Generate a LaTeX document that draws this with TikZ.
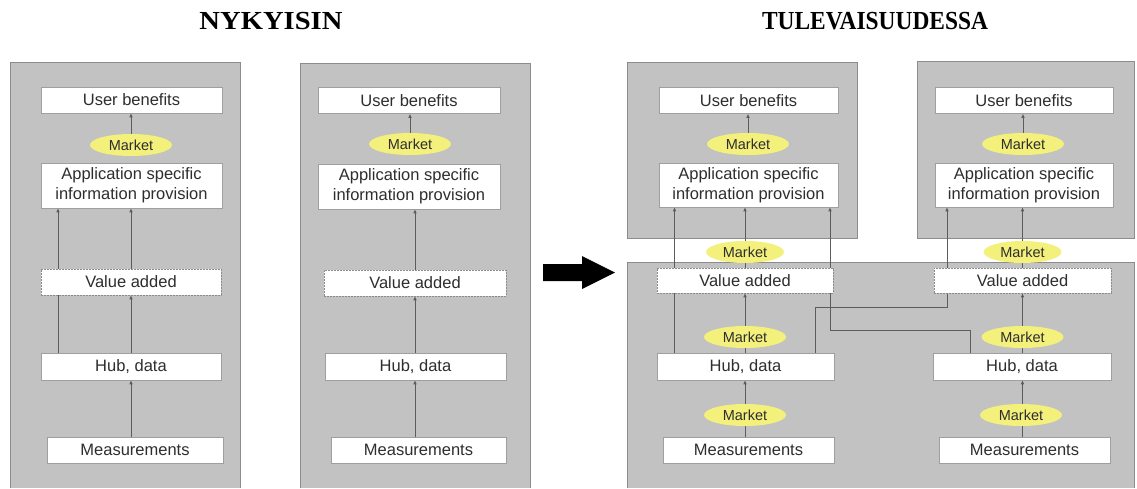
\documentclass[tikz,border=0pt]{standalone}
\usepackage{fontspec}
\setmainfont{Liberation Serif}
\setsansfont{Liberation Sans}
\usetikzlibrary{arrows.meta,shapes.geometric}

\definecolor{panelgray}{HTML}{C2C2C2}
\definecolor{paneledge}{HTML}{8C8C8C}
\definecolor{marketyellow}{HTML}{F4F07C}
\definecolor{linegray}{HTML}{5C5C5C}
\definecolor{textgray}{HTML}{2E2E2E}

\pgfdeclarelayer{panels}
\pgfdeclarelayer{wires}
\pgfsetlayers{panels,wires,main}

\begin{document}
\begin{tikzpicture}[x=1pt,y=-1pt,
  panel/.style={fill=panelgray},
  paneledge/.style={draw=paneledge,line width=0.9pt},
  box/.style={draw=gray!75, fill=white, line width=0.6pt, inner sep=0pt,
    font=\sffamily\fontsize{16.5}{20}\selectfont, text=textgray, align=center,
    minimum height=26pt},
  vbox/.style={box, draw=gray!90, dash pattern=on 2pt off 1pt},
  market/.style={ellipse, fill=marketyellow, inner sep=0pt, minimum width=82pt,
    minimum height=22pt, font=\sffamily\fontsize{14.5}{16}\selectfont, text=textgray},
  link/.style={draw=linegray, line width=0.7pt, -{Latex[length=4pt,width=3.6pt]}},
  title/.style={font=\bfseries\fontsize{26}{30}\selectfont, inner sep=0pt}]

\useasboundingbox (0,0) rectangle (1137,488);

% headings
\node[title] (t1) at (271,21.5) {\scalebox{1.1}[1]{NYKYISIN}};
\node[title] (t2) at (875,21.5) {\scalebox{0.9}[1]{TULEVAISUUDESSA}};

% ---- present: first chain ----
\node[box, minimum width=181pt] (ub1) at (131.5,100) {User benefits};
\node[market] (mk1) at (131,145) {Market};
\node[box, minimum width=181pt, minimum height=45pt] (app1) at (131.5,185.5) {Application specific\\information provision};
\node[vbox, minimum width=180pt] (va1) at (131,282) {Value added};
\node[box, minimum width=180pt, minimum height=27pt] (hub1) at (131,366.5) {Hub, data};
\node[box, minimum width=176pt] (ms1) at (135,450) {Measurements};

% ---- present: second chain ----
\node[box, minimum width=182pt] (ub2) at (409,100.5) {User benefits};
\node[market] (mk2) at (410,144) {Market};
\node[box, minimum width=182pt, minimum height=45pt] (app2) at (409,186.5) {Application specific\\information provision};
\node[vbox, minimum width=182pt] (va2) at (415,283) {Value added};
\node[box, minimum width=181pt, minimum height=27pt] (hub2) at (415.5,366.5) {Hub, data};
\node[box, minimum width=175pt] (ms2) at (418.5,450) {Measurements};

% ---- future: left chain ----
\node[box, minimum width=179pt] (ub3) at (748.5,100.5) {User benefits};
\node[market] (mk3) at (748,144) {Market};
\node[box, minimum width=179pt, minimum height=44pt] (app3) at (748.5,185) {Application specific\\information provision};
\node[market, minimum width=78pt] (mk5) at (745,252) {Market};
\node[vbox, minimum width=176pt, minimum height=25pt] (va3) at (745,280.5) {Value added};
\node[market] (mk6) at (745,337) {Market};
\node[box, minimum width=177pt, minimum height=27pt] (hub3) at (745.5,366.5) {Hub, data};
\node[market] (mk7) at (745,415) {Market};
\node[box, minimum width=171pt] (ms3) at (748.5,450) {Measurements};

% ---- future: right chain ----
\node[box, minimum width=178pt] (ub4) at (1024,100.5) {User benefits};
\node[market] (mk4) at (1023,144) {Market};
\node[box, minimum width=178pt, minimum height=44pt] (app4) at (1024,185) {Application specific\\information provision};
\node[market, minimum width=78pt] (mk8) at (1022.5,252) {Market};
\node[vbox, minimum width=177pt, minimum height=25pt] (va4) at (1022.5,280.5) {Value added};
\node[market] (mk9) at (1022.5,337) {Market};
\node[box, minimum width=178pt, minimum height=27pt] (hub4) at (1022,366.5) {Hub, data};
\node[market] (mk10) at (1021,415) {Market};
\node[box, minimum width=171pt] (ms4) at (1024.5,450) {Measurements};

% bends of the cross links between the two future chains
\coordinate (bendA) at (947,307);
\coordinate (bendB) at (830,330);

% ---- grey panels ----
\begin{pgfonlayer}{panels}
  \fill[panel] (10,62) rectangle (240,488);
  \draw[paneledge] (10,488) -- (10,62) -- (240,62) -- (240,488);
  \fill[panel] (300,63) rectangle (530,488);
  \draw[paneledge] (300,488) -- (300,63) -- (530,63) -- (530,488);
  \fill[panel] (627,62) rectangle (857,238);
  \draw[paneledge] (627,238) -- (627,62) -- (857,62) -- (857,238) -- cycle;
  \fill[panel] (917,61) rectangle (1134,238);
  \draw[paneledge] (917,238) -- (917,61) -- (1134,61) -- (1134,238) -- cycle;
  \fill[panel] (627,262) rectangle (1134,488);
  \draw[paneledge] (627,488) -- (627,262) -- (1134,262) -- (1134,488);
\end{pgfonlayer}

% ---- connectors ----
\begin{pgfonlayer}{wires}
  % present, first chain
  \draw[link] (mk1.north) -- (mk1.north |- ub1.south);
  \draw[link] (va1.north) -- (va1.north |- app1.south);
  \draw[link] ([xshift=-73pt]hub1.north) -- ([xshift=-73pt]hub1.north |- app1.south);
  \draw[link] (hub1.north) -- (hub1.north |- va1.south);
  \draw[link] (hub1.south |- ms1.north) -- (hub1.south);
  % present, second chain
  \draw[link] (mk2.north) -- (mk2.north |- ub2.south);
  \draw[link] (va2.north) -- (va2.north |- app2.south);
  \draw[link] (va2.south |- hub2.north) -- (va2.south);
  \draw[link] (va2.south |- ms2.north) -- (va2.south |- hub2.south);
  % future, left chain
  \draw[link] (mk3.north) -- (mk3.north |- ub3.south);
  \draw[link] (va3.north) -- (va3.north |- app3.south);
  \draw[link] (va3.south |- hub3.north) -- (va3.south);
  \draw[link] (va3.south |- ms3.north) -- (va3.south |- hub3.south);
  \draw[link] ([xshift=-71pt]hub3.north) -- ([xshift=-71pt]hub3.north |- app3.south);
  % future, right chain
  \draw[link] (mk4.north) -- (mk4.north |- ub4.south);
  \draw[link] (va4.north) -- (va4.north |- app4.south);
  \draw[link] (va4.south |- hub4.north) -- (va4.south);
  \draw[link] (va4.south |- ms4.north) -- (va4.south |- hub4.south);
  % cross links
  \draw[link] ([xshift=70pt]hub3.north) |- (bendA) -- (bendA |- app4.south);
  \draw[link] ([xshift=-52pt]hub4.north) |- (bendB) -- (bendB |- app3.south);
\end{pgfonlayer}

% ---- transition arrow ----
\fill[black] (543,264) -- (582,264) -- (582,256) -- (615,272.5) -- (582,289) -- (582,281) -- (543,281) -- cycle;

\end{tikzpicture}
\end{document}
